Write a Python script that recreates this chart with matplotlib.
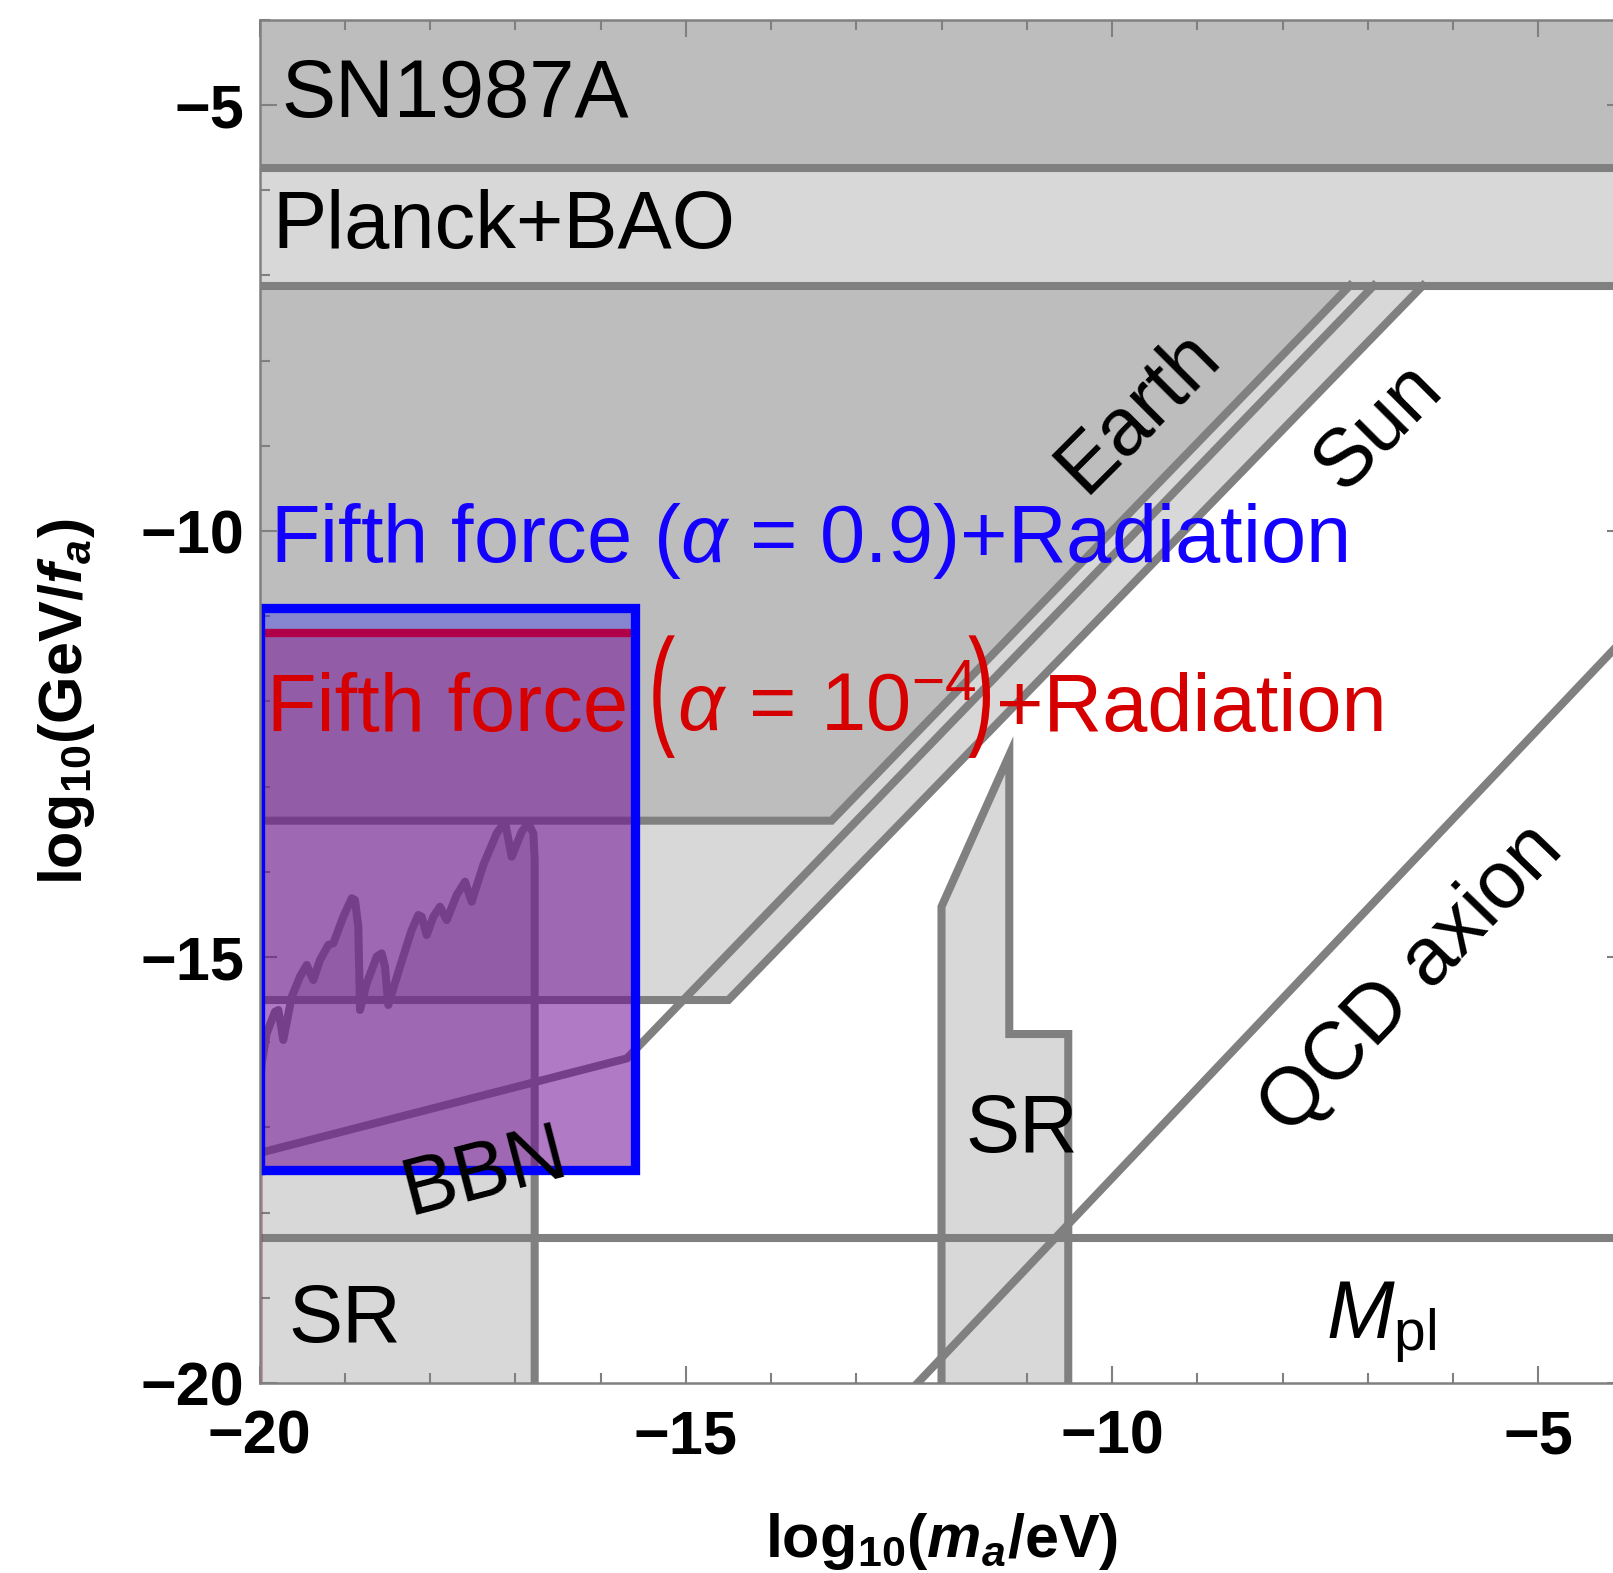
import numpy as np
import matplotlib
matplotlib.use("Agg")
import matplotlib.pyplot as plt
from matplotlib.ticker import MultipleLocator, FixedLocator, FixedFormatter
from matplotlib.textpath import TextPath
from matplotlib.patches import PathPatch
from matplotlib.font_manager import FontProperties
from matplotlib.transforms import Affine2D

plt.rcParams['font.family'] = ['Liberation Sans', 'DejaVu Sans']
plt.rcParams['mathtext.fontset'] = 'custom'
plt.rcParams['mathtext.rm'] = 'Liberation Sans'
plt.rcParams['mathtext.it'] = 'Liberation Sans:italic'
plt.rcParams['mathtext.bf'] = 'Liberation Sans:bold'
plt.rcParams['mathtext.bfit'] = 'Liberation Sans:italic:bold'

# --- constraint boundaries, log10(m_a/eV) vs log10(GeV/f_a) ---
sn1987a_y = -5.745
planck_y = -7.12

earth_x = [-20.0, -13.29, -7.21]
earth_y = [-13.40, -13.40, -7.12]

sun_x = [-20.0, -14.50, -6.355]
sun_y = [-15.505, -15.505, -7.12]

bbn_x = [-20.0, -15.69, -6.93]
bbn_y = [-17.30, -16.19, -7.12]

# superradiance bound (light black holes)
sr1_x = [-20.0, -19.974, -19.916, -19.818, -19.779, -19.721, -19.622, -19.525,
         -19.446, -19.369, -19.290, -19.193, -19.134, -19.017, -18.918, -18.880,
         -18.841, -18.821, -18.743, -18.625, -18.567, -18.528, -18.489, -18.352,
         -18.215, -18.137, -18.097, -18.039, -17.961, -17.883, -17.804, -17.687,
         -17.589, -17.511, -17.375, -17.218, -17.120, -17.042, -16.924, -16.847,
         -16.788, -16.772, -16.772]
sr1_y = [-16.60, -16.248, -15.896, -15.642, -15.622, -15.974, -15.466, -15.231,
         -15.094, -15.270, -15.035, -14.859, -14.839, -14.527, -14.311, -14.331,
         -14.644, -15.622, -15.309, -14.996, -14.957, -15.114, -15.563, -15.114,
         -14.683, -14.507, -14.527, -14.742, -14.527, -14.410, -14.566, -14.272,
         -14.116, -14.351, -13.920, -13.548, -13.412, -13.823, -13.529, -13.431,
         -13.548, -13.862, -20.0]

# superradiance bound (stellar black holes)
sr2_x = [-12.0, -12.0, -11.205, -11.205, -10.513, -10.513]
sr2_y = [-20.0, -14.41, -12.63, -15.904, -15.904, -20.0]

qcd_x = [-12.28, -4.0]
qcd_y = [-20.0, -11.27]

mpl_y = -18.30

# fifth force + radiation regions
ff_x = [-20.0, -15.60]
ff09_y = [-17.50, -10.90]
ff4_y = [-17.50, -11.20]

gray = '#808080'
lw = 5.8
fs = 58.5
red = '#d60000'
blue = '#1400ff'

fig = plt.figure(figsize=(16.13, 15.73), dpi=100)
ax = fig.add_axes([259.5 / 1613, 1 - 1383 / 1573, 16 * 85.25 / 1613, 16 * 85.2 / 1573])
ax.set_xlim(-20, -4)
ax.set_ylim(-20, -4)

def region(xs, ys, z=1):
    ax.fill(xs, ys, color=gray, alpha=0.3, lw=0, zorder=z)

# SN1987A and Planck+BAO bands
region([-20, -4, -4, -20], [sn1987a_y, sn1987a_y, -4, -4])
region([-20, -4, -4, -20], [planck_y, planck_y, -4, -4])
ax.plot([-20, -4], [sn1987a_y, sn1987a_y], color=gray, lw=lw, zorder=2.2, solid_capstyle='butt')
ax.plot([-20, -4], [planck_y, planck_y], color=gray, lw=lw, zorder=2.2, solid_capstyle='butt')

# Earth / Sun
for bx, by in [(earth_x, earth_y), (sun_x, sun_y)]:
    region(bx + [-20], by + [planck_y])
    ax.plot(bx, by, color=gray, lw=lw, zorder=2, solid_joinstyle='miter')

# BBN line
ax.plot(bbn_x, bbn_y, color=gray, lw=lw, zorder=2, solid_joinstyle='miter')

# SR regions
region(sr1_x + [-20], sr1_y + [-20])
ax.plot(sr1_x, sr1_y, color=gray, lw=lw, zorder=2, solid_joinstyle='round')
region(sr2_x, sr2_y)
ax.plot(sr2_x, sr2_y, color=gray, lw=lw, zorder=2, solid_joinstyle='miter')

# QCD axion and Planck mass
ax.plot(qcd_x, qcd_y, color=gray, lw=lw, zorder=2)
ax.plot([-20, -4], [mpl_y, mpl_y], color=gray, lw=lw, zorder=2)

# fifth force regions
bx = [ff_x[0], ff_x[1], ff_x[1], ff_x[0]]
ax.fill(bx, [ff09_y[0], ff09_y[0], ff09_y[1], ff09_y[1]], color='#0000ff', alpha=0.29, lw=0, zorder=3)
ax.fill([ff_x[0], ff_x[0] + 0.045, ff_x[0] + 0.045, ff_x[1], ff_x[1], ff_x[0]],
        [-20, -20, ff4_y[0], ff4_y[0], ff4_y[1], ff4_y[1]],
        color='#ac105d', alpha=0.352, lw=0, zorder=3.1)
ax.plot(ff_x, [ff4_y[1], ff4_y[1]], color='#b0004a', lw=6.0, zorder=4, solid_capstyle='butt')
ax.plot(bx + [bx[0]], [ff09_y[0], ff09_y[0], ff09_y[1], ff09_y[1], ff09_y[0]],
        color='#0000ff', lw=6.7, zorder=4.1, solid_joinstyle='miter')

# labels
ax.text(-19.748, -5.137, 'SN1987A', fontsize=fs, ha='left', va='baseline', zorder=6)
ax.text(-19.853, -6.682, 'Planck+BAO', fontsize=fs, ha='left', va='baseline', zorder=6)
ax.text(-19.877, -10.364, r'Fifth force ($\alpha$ = 0.9)+Radiation', fontsize=fs,
        color=blue, ha='left', va='baseline', zorder=6)
ax.text(-9.695, -8.603, 'Earth', fontsize=fs, rotation=45, ha='center', va='center', zorder=6)
ax.text(-6.868, -8.779, 'Sun', fontsize=fs, rotation=45, ha='center', va='center', zorder=6)
ax.text(-6.481, -15.27, 'QCD axion', fontsize=fs, rotation=46, ha='center', va='center', zorder=6)
ax.text(-17.355, -17.547, 'BBN', fontsize=fs, rotation=14.5, ha='center', va='center', zorder=6)
ax.text(-11.056, -17.289, 'SR', fontsize=fs, ha='center', va='baseline', zorder=6)
ax.text(-19.666, -19.515, 'SR', fontsize=fs, ha='left', va='baseline', zorder=6)
ax.text(-7.49, -19.487, r'$M_{\mathrm{pl}}$', fontsize=fs, ha='left', va='baseline', zorder=6)

# red label: pieces laid out left to right, with tall parentheses
renderer = fig.canvas.get_renderer()
to_px = ax.transData
to_data = ax.transData.inverted()
x_px, base_px = to_px.transform((-19.91, -12.344))

def put_text(xp, s):
    xd, yd = to_data.transform((xp, base_px))
    t = ax.text(xd, yd, s, fontsize=fs, color=red, ha='left', va='baseline', zorder=6)
    return t.get_window_extent(renderer).x1

fs_px = fs * fig.dpi / 72
def put_paren(xp, ch, sx=1.0, sy=1.62):
    path = TextPath((0, 0), ch, size=fs_px, prop=FontProperties(family='Liberation Sans'))
    ext = path.get_extents()
    tr = Affine2D().translate(-ext.x0, 0).scale(sx, sy).translate(xp, base_px)
    ax.add_patch(PathPatch(path, transform=tr, facecolor=red, edgecolor='none', zorder=6))
    return xp + (ext.x1 - ext.x0) * sx

right = put_text(x_px, 'Fifth force')
right = put_paren(right + 25, '(')
right = put_text(right + 2, r'$\alpha\,=\,10^{-4}$')
right = put_paren(right - 8, ')')
put_text(right + 6, '+Radiation')

# axes styling
for s in ax.spines.values():
    s.set_color(gray)
    s.set_linewidth(1.8)
    s.set_zorder(7)
major = [-20, -15, -10, -5]
ax.xaxis.set_major_locator(FixedLocator(major))
ax.yaxis.set_major_locator(FixedLocator(major))
ax.xaxis.set_minor_locator(MultipleLocator(1))
ax.yaxis.set_minor_locator(MultipleLocator(1))
labels = ['\u221220', '\u221215', '\u221210', '\u22125']
ax.xaxis.set_major_formatter(FixedFormatter(labels))
ax.yaxis.set_major_formatter(FixedFormatter(labels))
ax.tick_params(which='both', direction='in', top=True, right=True, color=gray, width=1.5,
               labelsize=44, zorder=7)
ax.tick_params(which='major', length=12)
ax.tick_params(which='minor', length=7)
ax.tick_params(axis='x', pad=19)
ax.tick_params(axis='y', pad=11)
for t in ax.get_xticklabels() + ax.get_yticklabels():
    t.set_fontweight('bold')

ax.set_xlabel(r'$\mathbf{log}_{\mathbf{10}}\mathbf{(}\boldsymbol{m}_{\boldsymbol{a}}\mathbf{/eV)}$',
              fontsize=44, labelpad=32)
ax.set_ylabel(r'$\mathbf{log}_{\mathbf{10}}\mathbf{(GeV/}\boldsymbol{f}_{\boldsymbol{a}}\mathbf{)}$',
              fontsize=44, labelpad=31)

fig.savefig('out.png', dpi=100)
